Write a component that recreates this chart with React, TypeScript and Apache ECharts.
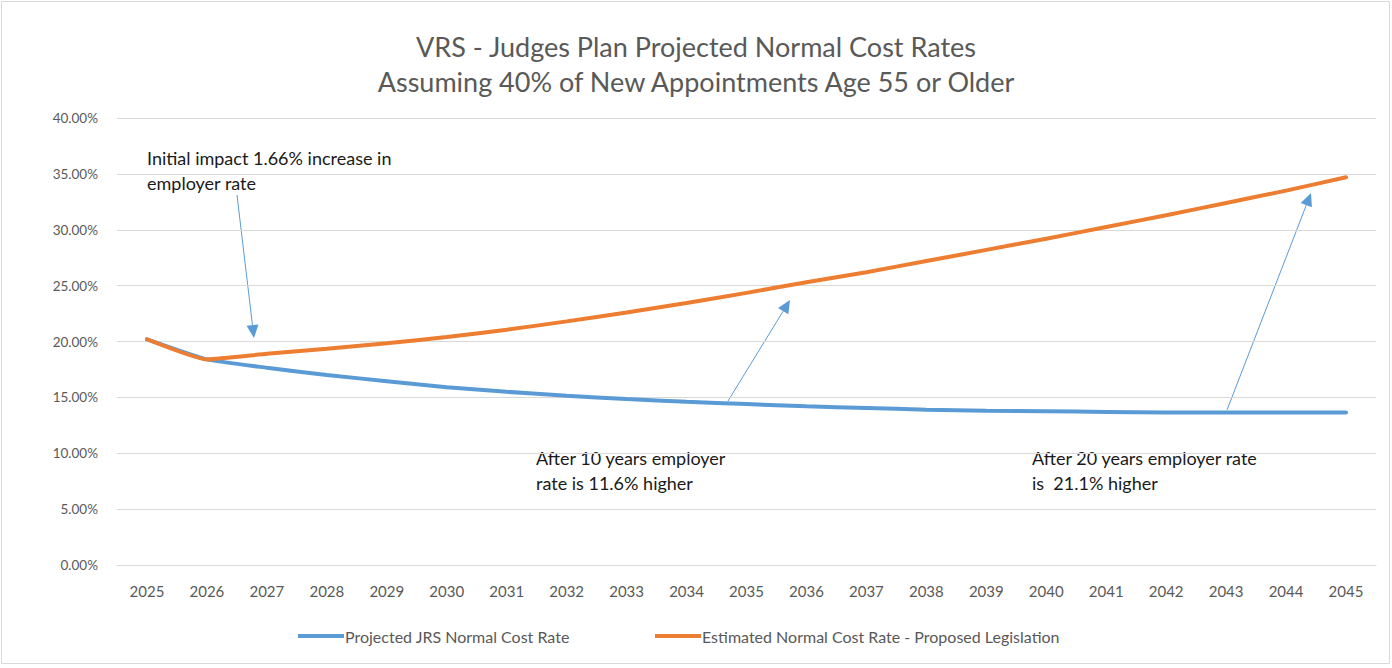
import React, { useEffect, useRef } from "react";
import * as echarts from "echarts";

const years = ["2025","2026","2027","2028","2029","2030","2031","2032","2033","2034","2035","2036","2037","2038","2039","2040","2041","2042","2043","2044","2045"];
const projectedJRS = [20.2, 18.4, 17.65, 17.0, 16.45, 15.9, 15.5, 15.15, 14.85, 14.6, 14.4, 14.2, 14.05, 13.9, 13.8, 13.75, 13.7, 13.65, 13.65, 13.65, 13.65];
const proposed = [20.2, 18.4, 18.9, 19.35, 19.85, 20.4, 21.05, 21.8, 22.6, 23.45, 24.35, 25.3, 26.2, 27.2, 28.2, 29.2, 30.25, 31.3, 32.4, 33.5, 34.7];
const seriesNames = ["Projected JRS Normal Cost Rate", "Estimated Normal Cost Rate - Proposed Legislation"];
const titleLines = ["VRS - Judges Plan Projected Normal Cost Rates", "Assuming 40% of New Appointments Age 55 or Older"];

const FONT = "Lato, 'Open Sans', sans-serif";
const BLUE = "#5b9bd5";
const ORANGE = "#ed7d31";

function arrow(x1: number, y1: number, x2: number, y2: number) {
  const ang = Math.atan2(y2 - y1, x2 - x1);
  const len = 13, half = 6;
  const bx = x2 - Math.cos(ang) * len, by = y2 - Math.sin(ang) * len;
  const px = -Math.sin(ang) * half, py = Math.cos(ang) * half;
  return [
    { type: "line", shape: { x1, y1, x2: bx, y2: by }, style: { stroke: BLUE, lineWidth: 1 } },
    { type: "polygon", shape: { points: [[x2, y2], [bx + px, by + py], [bx - px, by - py]] }, style: { fill: BLUE } },
  ];
}

function annText(x: number, y: number, text: string) {
  return { type: "text", x, y, style: { text, font: `18px ${FONT}`, fill: "#1a1a1a", lineHeight: 25, textVerticalAlign: "top" } };
}

export default function App() {
  const ref = useRef<HTMLDivElement>(null);
  useEffect(() => {
    if (!ref.current) return;
    const chart = echarts.init(ref.current, undefined, { renderer: "svg" });
    chart.setOption({
      animation: false,
      backgroundColor: "#ffffff",
      title: {
        text: titleLines.join("\n"),
        left: "center",
        top: 24,
        textStyle: { fontFamily: FONT, fontSize: 27, fontWeight: "normal", color: "#595959", lineHeight: 35 },
      },
      grid: { left: 117, right: 16, top: 118, bottom: 103 },
      legend: [
        {
          data: [seriesNames[0]], left: 293, top: 623, icon: "rect", itemWidth: 46, itemHeight: 4,
          textStyle: { fontFamily: FONT, fontSize: 16, color: "#595959", padding: [0, 0, 0, -4] },
        },
        {
          data: [seriesNames[1]], left: 650, top: 623, icon: "rect", itemWidth: 46, itemHeight: 4,
          textStyle: { fontFamily: FONT, fontSize: 16, color: "#595959", padding: [0, 0, 0, -4] },
        },
      ],
      xAxis: {
        type: "category",
        data: years,
        boundaryGap: true,
        axisLine: { lineStyle: { color: "#d9d9d9", width: 1 } },
        axisTick: { show: false },
        axisLabel: { fontFamily: FONT, fontSize: 15, color: "#595959", margin: 18 },
      },
      yAxis: {
        type: "value",
        min: 0,
        max: 40,
        interval: 5,
        axisLine: { show: false },
        axisTick: { show: false },
        splitLine: { lineStyle: { color: "#d9d9d9", width: 1 } },
        axisLabel: { fontFamily: FONT, fontSize: 13.5, color: "#595959", margin: 19, formatter: (v: number) => v.toFixed(2) + "%" },
      },
      series: [
        {
          name: seriesNames[0], type: "line", data: projectedJRS, smooth: 0.15, symbol: "none",
          lineStyle: { color: BLUE, width: 4, cap: "round" }, itemStyle: { color: BLUE },
        },
        {
          name: seriesNames[1], type: "line", data: proposed, smooth: 0.15, symbol: "none",
          lineStyle: { color: ORANGE, width: 4, cap: "round" }, itemStyle: { color: ORANGE },
        },
      ],
      graphic: [
        { type: "rect", shape: { x: 1.5, y: 1.5, width: 1388, height: 662 }, style: { fill: "none", stroke: "#d9d9d9", lineWidth: 1 }, silent: true },
        annText(147, 145, "Initial impact 1.66% increase in\nemployer rate"),
        annText(536, 445, "After 10 years employer\nrate is 11.6% higher"),
        annText(1032, 445, "After 20 years employer rate\nis  21.1% higher"),
        ...arrow(237, 195, 254, 338),
        ...arrow(728, 401, 790, 300),
        ...arrow(1227, 410, 1311, 193),
      ],
    });
    return () => chart.dispose();
  }, []);
  return <div ref={ref} style={{ position: "fixed", left: 0, top: 0, width: 1392, height: 668 }} />;
}
